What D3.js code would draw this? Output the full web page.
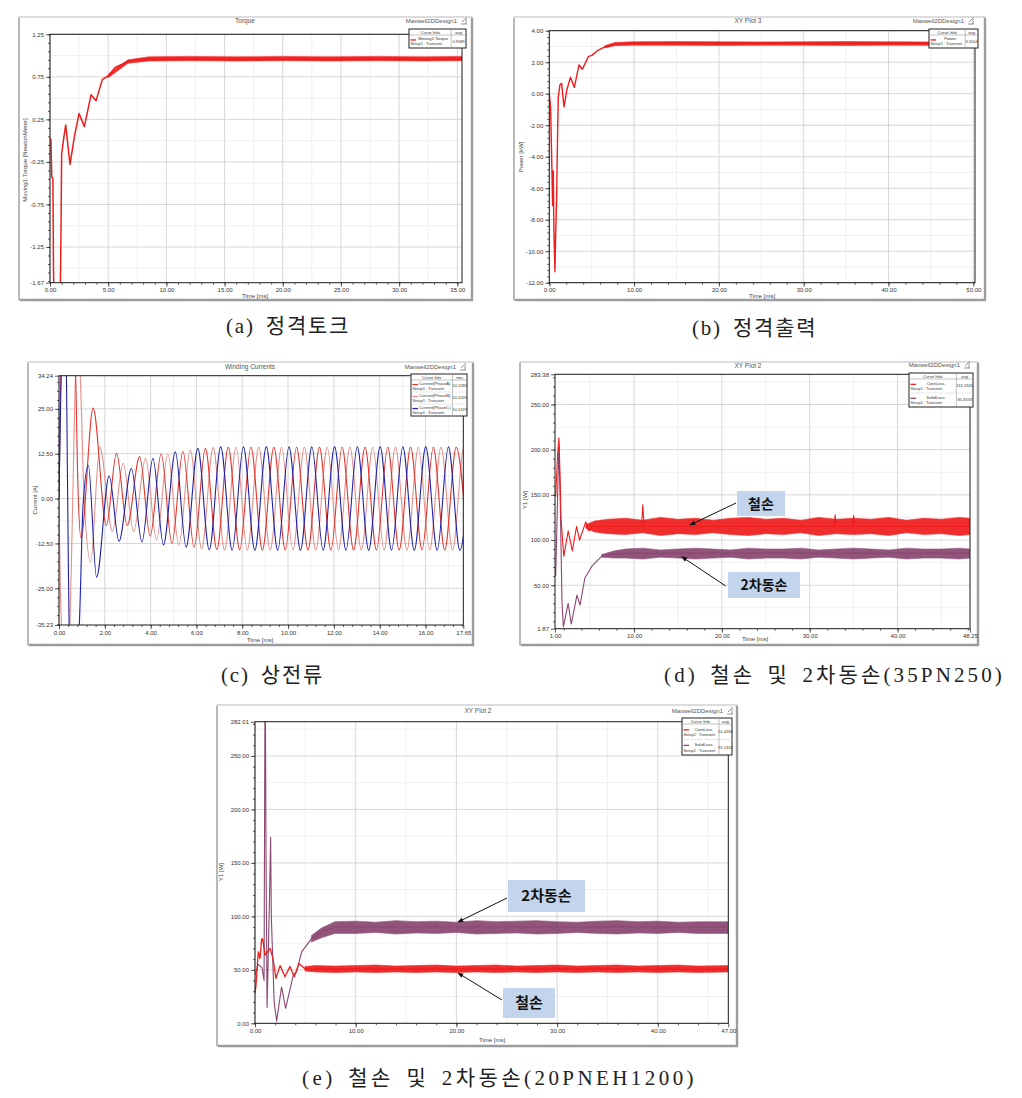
<!DOCTYPE html>
<html><head><meta charset="utf-8">
<script src="https://cdn.jsdelivr.net/npm/d3@7"></script>
<style>body{margin:0;background:#fff} svg{display:block}</style>
</head><body><svg id="c" width="1022" height="1098"></svg>
<script>
// ---------- Panel (a) Torque ----------
const aTicksX = [0,5,10,15,20,25,30,35];
const aLabelsX = ["0.00","5.00","10.00","15.00","20.00","25.00","30.00","35.00"];
const aTicksY = [-1.67,-1.25,-0.75,-0.25,0.25,0.75,1.25];
const aLabelsY = ["-1.67","-1.25","-0.75","-0.25","0.25","0.75","1.25"];
const aTime   = [0,0.08,0.15,0.25,0.3,0.4,0.6,0.85,0.95,1.0,1.2,1.35,1.72,2.1,2.5,2.95,3.53,3.96,4.5,5.0,5.6,6.7,8.5,35.4];
const aTorque = [0.03,0.0,-0.42,-0.45,-1.5,-2.4,-2.6,-2.2,-1.0,-0.16,0.05,0.185,-0.28,0.05,0.32,0.165,0.54,0.47,0.72,0.76,0.86,0.93,0.96,0.96];
const aBandT  = [5.0,6.7,8.5,12,16,20,24,28,32,35.4];
const aBandLo = [0.74,0.91,0.935,0.94,0.935,0.94,0.935,0.94,0.935,0.94];
const aBandHi = [0.78,0.95,0.985,0.99,0.985,0.99,0.985,0.99,0.985,0.99];

// ---------- Panel (b) Power ----------
const bTicksX = [0,10,20,30,40,50];
const bLabelsX = ["0.00","10.00","20.00","30.00","40.00","50.00"];
const bTicksY = [-12,-10,-8,-6,-4,-2,0,2,4];
const bLabelsY = ["-12.00","-10.00","-8.00","-6.00","-4.00","-2.00","0.00","2.00","4.00"];
const bTime  = [0,0.15,0.27,0.39,0.47,0.55,0.67,0.75,0.86,0.98,1.06,1.25,1.45,1.73,2.1,2.5,2.95,3.5,3.9,4.6,5.07,5.78,6.56,7.74,9.3,50.2];
const bPower = [0,-0.85,-3.8,-7.1,-4.9,-8.9,-11.3,-8.9,-6.75,-2.5,-0.2,0.55,0.66,-0.83,0.3,1.04,0.4,1.82,1.55,2.35,2.45,2.77,2.98,3.15,3.2,3.2];
const bBandT  = [6.56,7.74,10,15,20,25,30,35,40,45,50.2];
const bBandLo = [2.9,3.05,3.08,3.07,3.06,3.08,3.07,3.06,3.08,3.07,3.07];
const bBandHi = [3.05,3.25,3.3,3.31,3.3,3.29,3.3,3.31,3.3,3.29,3.3];

// ---------- Panel (c) Winding currents ----------
const cTicksX = [0,2,4,6,8,10,12,14,16,17.65];
const cLabelsX = ["0.00","2.00","4.00","6.00","8.00","10.00","12.00","14.00","16.00","17.65"];
const cTicksY = [-35.23,-25,-12.5,0,12.5,25,34.24];
const cLabelsY = ["-35.23","-25.00","-12.50","0.00","12.50","25.00","34.24"];
const cBlueT = [0,0.08,0.18,0.3,0.38,0.45,0.6,0.8,0.88,1.05,1.28,1.64,2.19,2.62,3.16,3.62,4.1,4.56,5.08,5.55,6.06,6.56,7.06,7.56,8.05,8.55,9.05,9.55,10.04,10.54,11.04,11.53,12.03,12.53,13.02,13.52,14.02,14.52,15.01,15.51,16.01,16.51,17.0,17.5,18.0];
const cBlueV = [0,30,45,42,0,-40,-48,-42,-36,-2,9.3,-21.9,6.3,-11.9,8.4,-12.1,11.2,-12.9,13.0,-13.5,14.0,-14.3,14.4,-14.4,14.4,-14.4,14.4,-14.4,14.4,-14.4,14.4,-14.4,14.4,-14.4,14.4,-14.4,14.4,-14.4,14.4,-14.4,14.4,-14.4,14.4,-14.4,14.4];
const cRedT = [0,0.04,0.1,0.3,0.55,0.72,0.82,0.96,1.49,2.07,2.51,2.98,3.52,3.98,4.46,4.93,5.41,5.9,6.39,6.89,7.39,7.89,8.38,8.88,9.38,9.88,10.37,10.87,11.37,11.87,12.36,12.86,13.36,13.86,14.35,14.85,15.35,15.85,16.34,16.84,17.34,17.84];
const cRedV = [0,20,38,50,45,35,5,-11,25.2,-7.5,12.6,-7.5,11.7,-10.5,12.5,-12.5,13.2,-13.6,14.0,-14.2,14.3,-14.3,14.3,-14.3,14.3,-14.3,14.3,-14.3,14.3,-14.3,14.3,-14.3,14.3,-14.3,14.3,-14.3,14.3,-14.3,14.3,-14.3,14.3,-14.3];
const cPinkT = [0,0.06,0.2,0.35,0.47,0.6,0.74,0.85,0.95,1.1,1.38,1.78,2.33,2.8,3.26,3.78,4.26,4.75,5.23,5.73,6.23,6.73,7.23,7.73,8.22,8.72,9.22,9.72,10.21,10.71,11.21,11.71,12.2,12.7,13.2,13.7,14.19,14.69,15.19,15.69,16.18,16.68,17.18,17.68,18.1];
const cPinkV = [0,-25,-45,-50,-38,0,38,45,30,0,-17.7,14.4,-9.2,9.8,-9.2,11.2,-11.5,12.5,-13.0,13.5,-14.0,14.2,-14.3,14.3,-14.3,14.3,-14.3,14.3,-14.3,14.3,-14.3,14.3,-14.3,14.3,-14.3,14.3,-14.3,14.3,-14.3,14.3,-14.3,14.3,-14.3,14.3,-14.3];

// ---------- Panel (d) losses 35PN250 ----------
const dTicksX = [1,10,20,30,40,48.25];
const dLabelsX = ["1.00","10.00","20.00","30.00","40.00","48.25"];
const dTicksY = [1.87,50,100,150,200,250,283.38];
const dLabelsY = ["1.87","50.00","100.00","150.00","200.00","250.00","283.38"];
const dCoreT = [1.08,1.3,1.45,1.55,1.7,2.0,2.5,2.97,3.46,3.8,4.5,4.86,5.2,10.85,11.0,11.15,32.8,32.9,33.0,34.9,35.0,35.1,48.25];
const dCoreV = [148,195,213,180,122,82,110,88,115,100,120,110,115,115,139,115,115,128,115,115,127,115,115];
const dCoreBandT  = [4.5,5.5,7,9,11,13,15,17,19,21,23,25,27,29,31,33,35,37,39,41,43,45,47,48.25];
const dCoreBandLo = [113,109,107,106,108,105,107,106,108,106,105,107,106,108,105,107,106,107,105,108,106,107,105,106];
const dCoreBandHi = [117,121,123,124,122,125,123,124,122,124,125,123,124,122,125,123,124,123,125,122,124,123,125,124];
const dSolidT = [1.08,1.3,1.45,1.6,1.8,1.95,2.5,2.85,3.5,3.85,4.4,5.2,6.3,7.8,9.7,48.25];
const dSolidV = [60,150,205,140,30,4,30,7,39,28,58,71,82,85,85.5,85.5];
const dSolidBandT  = [6.3,7.8,9,11,13,15,17,19,21,23,25,27,29,31,33,35,37,39,41,43,45,47,48.25];
const dSolidBandLo = [81,80,80,79,81,80,79,80,81,79,80,80,79,81,80,79,80,81,79,80,80,79,80];
const dSolidBandHi = [84,88,90,91,89,90,91,90,89,91,90,90,91,89,90,91,90,89,91,90,90,91,90];

// ---------- Panel (e) losses 20PNEH1200 ----------
const eTicksX = [0,10,20,30,40,47];
const eLabelsX = ["0.00","10.00","20.00","30.00","40.00","47.00"];
const eTicksY = [0,50,100,150,200,250,282.01];
const eLabelsY = ["0.00","50.00","100.00","150.00","200.00","250.00","282.01"];
const eCoreT = [0,0.1,0.33,0.5,0.66,0.76,1.0,1.5,1.8,2.08,2.5,2.97,3.47,3.9,4.36,4.96,47];
const eCoreV = [28,36,66.8,60.6,79,79,63.7,70,60,42,54,43.5,53,43.5,56,51,50.6];
const eCoreBandT  = [4.96,6,8,10,12,14,16,18,20,22,24,26,28,30,32,34,36,38,40,42,44,47];
const eCoreBandLo = [49,48,47.5,48,47.5,48,47.5,48,47.5,48,47.5,48,47.5,48,47.5,48,47.5,48,47.5,48,47.5,48];
const eCoreBandHi = [53,54,53.5,54,54.5,53.5,54,54.5,53.5,54,54.5,53.5,54,54.5,53.5,54,54.5,53.5,54,54.5,53.5,54];
const eSolidT = [0,0.3,0.7,0.9,0.99,1.03,1.1,1.2,1.45,1.55,1.62,1.9,2.15,2.64,3.04,3.8,4.13,4.63,5.6,6.6,7.93,47];
const eSolidV = [45,55,52,40,300,300,150,15,120,174,100,20,2,34,14,45,48,66.8,79,85.4,90,90];
const eSolidBandT  = [5.6,6.6,7.93,10,12,14,16,18,20,22,24,26,28,30,32,34,36,38,40,42,44,47];
const eSolidBandLo = [76,80,84,84,85,83.5,84.5,84,85,83.5,84,84.5,83.5,84,85,84,83.5,84.5,84,85,84,84];
const eSolidBandHi = [82,89,95,95.5,94.5,96,95,95.5,94.5,96,95,95.5,96,95,94.5,95.5,96,95,95.5,94.5,95,95];

// ---------- Captions ----------
const captions = ["(a) 정격토크","(b) 정격출력","(c) 상전류","(d) 철손 및 2차동손(35PN250)","(e) 철손 및 2차동손(20PNEH1200)"];

// ================= drawing =================
const SANS = "'Liberation Sans','DejaVu Sans',sans-serif";
const KR = "'Noto Sans CJK KR',sans-serif";
const CAP = "'Liberation Serif','Noto Sans CJK KR',serif";
const RED = "#ee1c1c", PURPLE = "#8a4670", BLUE = "#1e22a8", CRED = "#e0342e", CPINK = "#e3918a";

const svg = d3.select('#c');
const defs = svg.append('defs');
defs.append('marker').attr('id','arr').attr('viewBox','0 0 10 10').attr('refX',9).attr('refY',5)
  .attr('markerWidth',6).attr('markerHeight',6).attr('orient','auto')
  .append('path').attr('d','M0,1 L10,5 L0,9 z').attr('fill','#111');

function gridVals(dom, base, step){
  const out=[]; const kmin=Math.ceil((dom[0]-base)/step-1e-9), kmax=Math.floor((dom[1]-base)/step+1e-9);
  for(let k=kmin;k<=kmax;k++) out.push(base+k*step);
  return out;
}

function legend(g, L){
  const headH=6, h=headH+L.rowH*L.rows.length, right=L.x+L.w, vx=L.x+L.w*0.74;
  g.append('rect').attr('x',L.x).attr('y',L.y).attr('width',L.w).attr('height',h).attr('fill','#fff').attr('stroke','#222').attr('stroke-width',1);
  g.append('line').attr('x1',vx).attr('x2',vx).attr('y1',L.y).attr('y2',L.y+h).attr('stroke','#999').attr('stroke-width',0.6);
  g.append('line').attr('x1',L.x).attr('x2',right).attr('y1',L.y+headH).attr('y2',L.y+headH).attr('stroke','#999').attr('stroke-width',0.6);
  const t=(x,y,s,anchor,sz)=>g.append('text').attr('x',x).attr('y',y).attr('text-anchor',anchor||'middle').attr('font-size',sz||4.2).attr('font-family',SANS).attr('fill','#333').text(s);
  t((L.x+vx)/2,L.y+headH-1.3,'Curve Info');
  t((vx+right)/2,L.y+headH-1.3,L.hdr||'avg');
  L.rows.forEach((r,i)=>{
    const ry=L.y+headH+i*L.rowH;
    g.append('line').attr('x1',L.x+1.5).attr('x2',L.x+7).attr('y1',ry+L.rowH*0.38).attr('y2',ry+L.rowH*0.38).attr('stroke',r.color).attr('stroke-width',1.3);
    t((L.x+vx)/2+3,ry+L.rowH*0.42,r.name);
    t(L.x+1.5,ry+L.rowH*0.8,'Setup1 : Transient','start',3.9);
    t((vx+right)/2,ry+L.rowH*0.6,r.val,'middle',4);
    if(i>0) g.append('line').attr('x1',L.x).attr('x2',right).attr('y1',ry).attr('y2',ry).attr('stroke','#ccc').attr('stroke-width',0.5);
  });
}

function drawPanel(p, id){
  const g = svg.append('g');
  const [fx0,fy0,fx1,fy1] = p.frame;
  g.append('rect').attr('x',fx0).attr('y',fy0).attr('width',fx1-fx0).attr('height',fy1-fy0).attr('fill','#fff').attr('stroke','#c6c6c6').attr('stroke-width',1.2);
  g.append('path').attr('d',`M${fx1},${fy0+1}V${fy1}H${fx0+1}`).attr('fill','none').attr('stroke','#9c9c9c').attr('stroke-width',2.4);
  g.append('path').attr('d',`M${fx0},${fy1}V${fy0+1}`).attr('fill','none').attr('stroke','#a8a8a8').attr('stroke-width',1.4);

  const x = d3.scaleLinear().domain(p.xd).range([p.l,p.r]);
  const y = d3.scaleLinear().domain(p.yd).range([p.b,p.t]);

  const grid = g.append('g');
  gridVals(p.xd,p.gx[0]+p.gx[1]/2,p.gx[1]).forEach(v=>grid.append('line').attr('x1',x(v)).attr('x2',x(v)).attr('y1',p.t).attr('y2',p.b).attr('stroke','#ececec').attr('stroke-width',0.8));
  gridVals(p.yd,p.gy[0]+p.gy[1]/2,p.gy[1]).forEach(v=>grid.append('line').attr('y1',y(v)).attr('y2',y(v)).attr('x1',p.l).attr('x2',p.r).attr('stroke','#ececec').attr('stroke-width',0.8));
  gridVals(p.xd,p.gx[0],p.gx[1]).forEach(v=>grid.append('line').attr('x1',x(v)).attr('x2',x(v)).attr('y1',p.t).attr('y2',p.b).attr('stroke','#d2d2d2').attr('stroke-width',0.9));
  gridVals(p.yd,p.gy[0],p.gy[1]).forEach(v=>grid.append('line').attr('y1',y(v)).attr('y2',y(v)).attr('x1',p.l).attr('x2',p.r).attr('stroke','#d2d2d2').attr('stroke-width',0.9));

  const styleAx = (a)=>{ a.select('.domain').remove(); a.selectAll('line').attr('stroke','#333').attr('stroke-width',0.8);
    a.selectAll('text').attr('font-size',6).attr('font-family',SANS).attr('fill','#333'); };
  styleAx(g.append('g').attr('transform',`translate(0,${p.b})`).call(d3.axisBottom(x).tickValues(p.xt).tickFormat((d,i)=>p.xlab[i]).tickSize(4).tickPadding(1.5)));
  styleAx(g.append('g').attr('transform',`translate(0,${p.b})`).call(d3.axisBottom(x).tickValues(gridVals(p.xd,p.gx[0],p.gx[1]/5)).tickSize(2).tickFormat('')));
  styleAx(g.append('g').attr('transform',`translate(${p.l},0)`).call(d3.axisLeft(y).tickValues(p.yt).tickFormat((d,i)=>p.ylab[i]).tickSize(4).tickPadding(2)));
  styleAx(g.append('g').attr('transform',`translate(${p.l},0)`).call(d3.axisLeft(y).tickValues(gridVals(p.yd,p.gy[0],p.gy[1]/5)).tickSize(2).tickFormat('')));

  defs.append('clipPath').attr('id','clip'+id).append('rect').attr('x',p.l).attr('y',p.t).attr('width',p.r-p.l).attr('height',p.b-p.t);
  const cg = g.append('g').attr('clip-path',`url(#clip${id})`);
  p.series.forEach(s=>{
    if(s.type==='band'){
      const d=s.xs.map((t,i)=>[t,s.lo[i],s.hi[i]]);
      cg.append('path').attr('d',d3.area().x(d=>x(d[0])).y0(d=>y(d[1])).y1(d=>y(d[2]))(d)).attr('fill',s.color).attr('stroke',s.color).attr('stroke-width',0.6).attr('opacity',s.op||0.92);
    } else {
      const d=s.xs.map((t,i)=>[t,s.ys[i]]);
      cg.append('path').attr('d',d3.line().x(d=>x(d[0])).y(d=>y(d[1])).curve(s.curve||d3.curveLinear)(d)).attr('fill','none').attr('stroke',s.color).attr('stroke-width',s.w||1).attr('stroke-linejoin','round');
    }
  });
  g.append('rect').attr('x',p.l).attr('y',p.t).attr('width',p.r-p.l).attr('height',p.b-p.t).attr('fill','none').attr('stroke','#1a1a1a').attr('stroke-width',1);

  const txt=(s,x0,y0,sz,anchor,fill)=>g.append('text').attr('x',x0).attr('y',y0).attr('text-anchor',anchor||'middle').attr('font-size',sz).attr('font-family',SANS).attr('fill',fill||'#555').text(s);
  txt(p.title[0],p.title[1],p.title[2],6.5);
  txt('Maxwell2DDesign1',p.mx[0],p.mx[1],6,'end','#555');
  g.append('path').attr('d',`M${p.mx[0]+4},${p.mx[1]+1}h6M${p.mx[0]+9},${p.mx[1]+1}v-7M${p.mx[0]+5},${p.mx[1]-1}l3,-3`).attr('stroke','#777').attr('stroke-width',0.8).attr('fill','none');
  g.append('text').attr('transform',`translate(${p.yl[1]},${p.yl[2]}) rotate(-90)`).attr('text-anchor','middle').attr('font-size',6).attr('font-family',SANS).attr('fill','#444').text(p.yl[0]);
  txt('Time [ms]',p.xl[0],p.xl[1],6,'middle','#444');
  legend(g,p.legend);

  (p.notes||[]).forEach(n=>{
    g.append('rect').attr('x',n.box[0]).attr('y',n.box[1]).attr('width',n.box[2]).attr('height',n.box[3]).attr('fill','#c3d5ec');
    g.append('text').attr('x',n.box[0]+n.box[2]/2).attr('y',n.box[1]+n.box[3]/2+n.size*0.36).attr('text-anchor','middle')
      .attr('font-size',n.size).attr('font-weight',700).attr('font-family',KR).attr('fill','#111').text(n.text);
    g.append('line').attr('x1',n.arrow[0]).attr('y1',n.arrow[1]).attr('x2',n.arrow[2]).attr('y2',n.arrow[3]).attr('stroke','#111').attr('stroke-width',1).attr('marker-end','url(#arr)');
  });
}

const panels = [
  { frame:[19,17,472,300], l:50, t:34.3, r:462, b:282.7, xd:[0,35.4], yd:[-1.67,1.25], gx:[0,5], gy:[0.25,0.5],
    xt:aTicksX, xlab:aLabelsX, yt:aTicksY, ylab:aLabelsY, title:['Torque',245,23], mx:[457,23],
    yl:['Moving1.Torque [NewtonMeter]',27,160], xl:[255,298],
    legend:{x:409,y:29,w:57,rowH:13,rows:[{color:RED,name:'Moving1.Torque',val:'0.9589'}]},
    series:[{type:'band',xs:aBandT,lo:aBandLo,hi:aBandHi,color:RED},{type:'line',xs:aTime,ys:aTorque,color:RED,w:1.5}] },
  { frame:[514,17,985,300], l:549.3, t:30.7, r:975, b:282.7, xd:[0,50.2], yd:[-12,4], gx:[0,10], gy:[0,2],
    xt:bTicksX, xlab:bLabelsX, yt:bTicksY, ylab:bLabelsY, title:['XY Plot 3',748,23], mx:[964,23],
    yl:['Power [kW]',523,157], xl:[762,298],
    legend:{x:929,y:29,w:49,rowH:13,rows:[{color:RED,name:'Power',val:'3.2004'}]},
    series:[{type:'band',xs:bBandT,lo:bBandLo,hi:bBandHi,color:RED},{type:'line',xs:bTime,ys:bPower,color:RED,w:1.4}] },
  { frame:[28,362,473,645], l:59, t:375.7, r:463.3, b:625, xd:[0,17.65], yd:[-35.23,34.24], gx:[0,2], gy:[0,12.5],
    xt:cTicksX, xlab:cLabelsX, yt:cTicksY, ylab:cLabelsY, title:['Winding Currents',250,369], mx:[456,369],
    yl:['Current [A]',37,500], xl:[260,642],
    legend:{x:411,y:374,w:56,rowH:12,hdr:'rms',rows:[{color:CRED,name:'Current(PhaseA)',val:'10.1385'},{color:CPINK,name:'Current(PhaseB)',val:'10.1320'},{color:BLUE,name:'Current(PhaseC)',val:'10.1329'}]},
    series:[{type:'line',xs:cPinkT,ys:cPinkV,color:CPINK,w:1.1,curve:d3.curveMonotoneX},
            {type:'line',xs:cRedT,ys:cRedV,color:CRED,w:1.1,curve:d3.curveMonotoneX},
            {type:'line',xs:cBlueT,ys:cBlueV,color:BLUE,w:1.1,curve:d3.curveMonotoneX}] },
  { frame:[520,362,978,645], l:555, t:374.3, r:970, b:628.7, xd:[1,48.25], yd:[1.87,283.38], gx:[0,10], gy:[0,50],
    xt:dTicksX, xlab:dLabelsX, yt:dTicksY, ylab:dLabelsY, title:['XY Plot 2',748,368], mx:[960,367],
    yl:['Y1 [W]',527,500], xl:[755,641],
    legend:{x:909,y:373,w:64,rowH:14,rows:[{color:RED,name:'CoreLoss',val:'115.2345'},{color:PURPLE,name:'SolidLoss',val:'85.3333'}]},
    series:[{type:'band',xs:dSolidBandT,lo:dSolidBandLo,hi:dSolidBandHi,color:PURPLE},{type:'line',xs:dSolidT,ys:dSolidV,color:PURPLE,w:1.1},
            {type:'band',xs:dCoreBandT,lo:dCoreBandLo,hi:dCoreBandHi,color:RED},{type:'line',xs:dCoreT,ys:dCoreV,color:RED,w:1.1}],
    notes:[{box:[737,491,48,25],text:'철손',size:14,arrow:[736,503,690,525]},
           {box:[728,572,72,26],text:'2차동손',size:14,arrow:[725.7,586,681.7,556.7]}] },
  { frame:[217,705,737,1046], l:255, t:721.7, r:728.3, b:1023.3, xd:[0,47], yd:[0,282.01], gx:[0,10], gy:[0,50],
    xt:eTicksX, xlab:eLabelsX, yt:eTicksY, ylab:eLabelsY, title:['XY Plot 2',478,713], mx:[723,713],
    yl:['Y1 [W]',223,872], xl:[492,1042],
    legend:{x:682,y:718,w:50,rowH:15.5,rows:[{color:RED,name:'CoreLoss',val:'51.4186'},{color:PURPLE,name:'SolidLoss',val:'91.1318'}]},
    series:[{type:'band',xs:eSolidBandT,lo:eSolidBandLo,hi:eSolidBandHi,color:PURPLE},{type:'line',xs:eSolidT,ys:eSolidV,color:PURPLE,w:1.1},
            {type:'band',xs:eCoreBandT,lo:eCoreBandLo,hi:eCoreBandHi,color:RED},{type:'line',xs:eCoreT,ys:eCoreV,color:RED,w:1.3}],
    notes:[{box:[508,880,77,32],text:'2차동손',size:15,arrow:[507,898,458,922]},
           {box:[503,988,52,30],text:'철손',size:15,arrow:[502,1000,458,973]}] }
];
panels.forEach((p,i)=>drawPanel(p,i));

// captions: even glyph spacing; long ones stretched by letter-spacing to the measured width
const capPos = [[226,333,0],[692,335,0],[221,682,0],[664,682,341],[302,1085,395]];
captions.forEach((c,i)=>{
  const t = svg.append('text').attr('x',capPos[i][0]).attr('y',capPos[i][1]).attr('font-size',21)
    .attr('font-family',CAP).attr('fill','#222').attr('letter-spacing',1.8).attr('word-spacing',4).text(c);
  if(capPos[i][2]){
    const w = t.node().getComputedTextLength();
    const ls = 1.8 + (capPos[i][2]-w)/c.length;
    t.attr('letter-spacing', Math.max(0.5, Math.min(4, ls)));
  }
});
</script></body></html>
